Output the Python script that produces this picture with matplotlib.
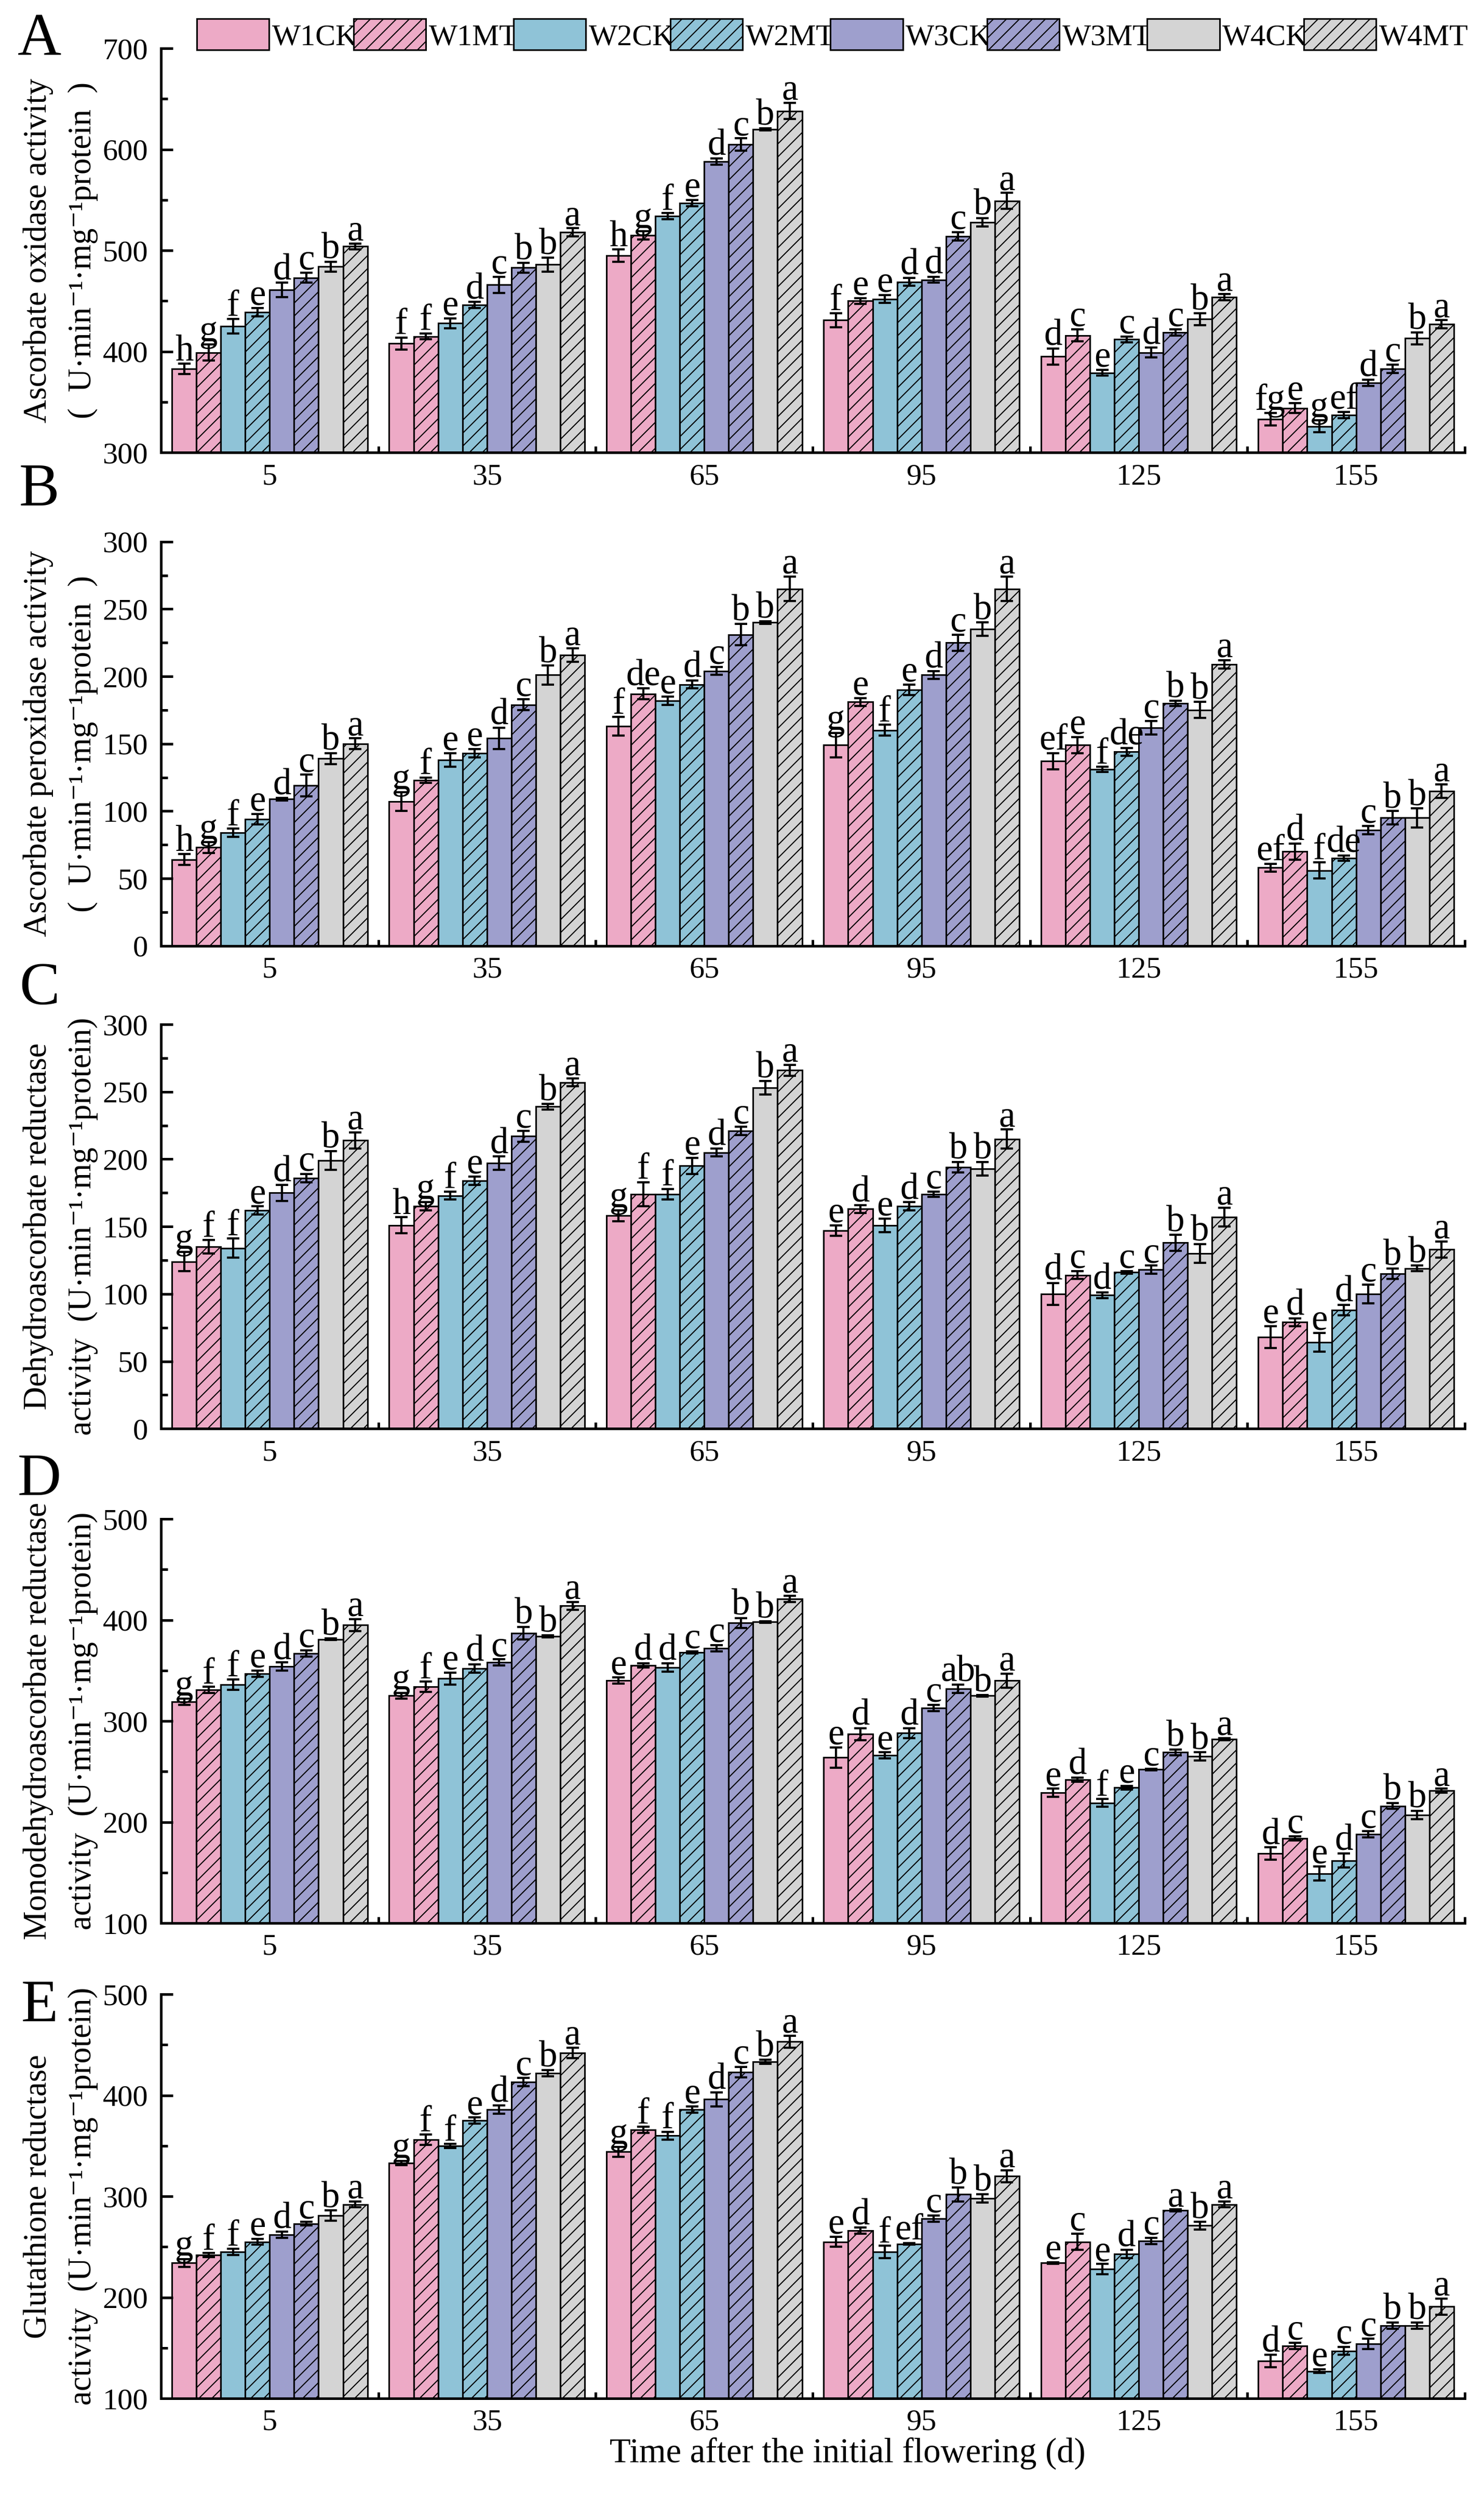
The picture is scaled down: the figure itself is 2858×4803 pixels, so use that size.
import matplotlib
matplotlib.use("Agg")
import matplotlib.pyplot as plt
import numpy as np
from matplotlib.patches import Patch
from matplotlib.ticker import MultipleLocator

plt.rcParams['font.family'] = ['Liberation Serif', 'DejaVu Serif']
plt.rcParams['hatch.linewidth'] = 0.5

days = ['5', '35', '65', '95', '125', '155']
treatments = ['W1CK', 'W1MT', 'W2CK', 'W2MT', 'W3CK', 'W3MT', 'W4CK', 'W4MT']
colors = ['#EDAAC6', '#EDAAC6', '#8FC3D7', '#8FC3D7', '#9E9FCD', '#9E9FCD', '#D4D4D4', '#D4D4D4']
hatches = ['', '////', '', '////', '', '////', '', '////']

# A  ascorbate oxidase
aao_mean = [[383, 399, 425, 439, 461, 473, 484, 504],
            [408, 415, 428, 446, 466, 483, 486, 518],
            [495, 515, 534, 547, 588, 605, 620, 638],
            [431, 450, 452, 469, 471, 514, 528, 549],
            [395, 416, 379, 412, 399, 419, 432, 454],
            [333, 344, 326, 337, 369, 383, 413, 427]]
aao_err = [[5, 8, 7, 4, 7, 5, 5, 3],
           [6, 3, 5, 3, 8, 5, 7, 4],
           [6, 4, 3, 3, 3, 6, 1, 8],
           [7, 3, 4, 4, 3, 4, 4, 8],
           [8, 6, 3, 3, 5, 3, 6, 3],
           [6, 5, 6, 3, 3, 4, 6, 4]]
aao_sig = [['h', 'g', 'f', 'e', 'd', 'c', 'b', 'a'],
           ['f', 'f', 'e', 'd', 'c', 'b', 'b', 'a'],
           ['h', 'g', 'f', 'e', 'd', 'c', 'b', 'a'],
           ['f', 'e', 'e', 'd', 'd', 'c', 'b', 'a'],
           ['d', 'c', 'e', 'c', 'd', 'c', 'b', 'a'],
           ['fg', 'e', 'g', 'ef', 'd', 'c', 'b', 'a']]

# B  ascorbate peroxidase
apx_mean = [[64, 73, 84, 94, 109, 119, 139, 150],
            [107, 123, 138, 143, 154, 179, 201, 216],
            [163, 187, 182, 194, 204, 231, 240, 265],
            [149, 181, 160, 190, 201, 225, 235, 265],
            [137, 149, 131, 144, 162, 180, 175, 209],
            [58, 70, 56, 65, 86, 95, 95, 115]]
apx_err = [[4, 4, 3, 4, 1, 8, 4, 4],
           [7, 2, 5, 3, 8, 4, 7, 5],
           [7, 4, 3, 3, 3, 8, 1, 9],
           [9, 3, 4, 4, 3, 6, 5, 9],
           [6, 6, 2, 3, 5, 2, 6, 3],
           [3, 6, 6, 2, 3, 5, 7, 5]]
apx_sig = [['h', 'g', 'f', 'e', 'd', 'c', 'b', 'a'],
           ['g', 'f', 'e', 'e', 'd', 'c', 'b', 'a'],
           ['f', 'de', 'e', 'd', 'c', 'b', 'b', 'a'],
           ['g', 'e', 'f', 'e', 'd', 'c', 'b', 'a'],
           ['ef', 'e', 'f', 'de', 'c', 'b', 'b', 'a'],
           ['ef', 'd', 'f', 'de', 'c', 'b', 'b', 'a']]

# C  dehydroascorbate reductase
dhar_mean = [[124, 135, 134, 162, 175, 186, 199, 214],
             [151, 165, 173, 184, 197, 217, 239, 257],
             [158, 174, 174, 195, 205, 221, 253, 266],
             [147, 163, 151, 165, 174, 194, 193, 215],
             [100, 114, 99, 116, 118, 138, 130, 157],
             [68, 79, 64, 88, 100, 115, 119, 133]]
dhar_err = [[7, 5, 7, 3, 6, 3, 7, 6],
            [6, 3, 3, 3, 5, 4, 2, 3],
            [4, 9, 4, 6, 3, 3, 5, 4],
            [4, 3, 5, 3, 2, 4, 5, 7],
            [8, 3, 2, 1, 3, 6, 7, 7],
            [8, 3, 7, 4, 7, 4, 2, 6]]
dhar_sig = [['g', 'f', 'f', 'e', 'd', 'c', 'b', 'a'],
            ['h', 'g', 'f', 'e', 'd', 'c', 'b', 'a'],
            ['g', 'f', 'f', 'e', 'd', 'c', 'b', 'a'],
            ['e', 'd', 'e', 'd', 'c', 'b', 'b', 'a'],
            ['d', 'c', 'd', 'c', 'c', 'b', 'b', 'a'],
            ['e', 'd', 'e', 'd', 'c', 'b', 'b', 'a']]

# D  monodehydroascorbate reductase
mdhar_mean = [[319, 331, 336, 347, 354, 367, 381, 395],
              [325, 334, 342, 352, 358, 387, 384, 414],
              [340, 355, 353, 368, 372, 397, 398, 421],
              [264, 287, 266, 288, 313, 332, 325, 340],
              [229, 242, 219, 234, 252, 269, 265, 282],
              [169, 184, 149, 162, 188, 216, 207, 231]]
mdhar_err = [[3, 3, 5, 3, 4, 3, 1, 6],
             [3, 5, 6, 4, 3, 6, 1, 4],
             [3, 2, 4, 1, 3, 5, 1, 3],
             [10, 6, 3, 5, 3, 4, 1, 7],
             [4, 2, 4, 2, 1, 3, 4, 1],
             [6, 2, 7, 7, 3, 3, 4, 2]]
mdhar_sig = [['g', 'f', 'f', 'e', 'd', 'c', 'b', 'a'],
             ['g', 'f', 'e', 'd', 'c', 'b', 'b', 'a'],
             ['e', 'd', 'd', 'c', 'c', 'b', 'b', 'a'],
             ['e', 'd', 'e', 'd', 'c', 'ab', 'b', 'a'],
             ['e', 'd', 'f', 'e', 'c', 'b', 'b', 'a'],
             ['d', 'c', 'e', 'd', 'c', 'b', 'b', 'a']]

# E  glutathione reductase
gr_mean = [[234, 242, 245, 255, 262, 273, 281, 292],
           [333, 356, 350, 375, 386, 413, 422, 442],
           [344, 366, 360, 386, 396, 423, 433, 453],
           [255, 266, 245, 253, 278, 302, 298, 320],
           [234, 255, 228, 243, 256, 286, 271, 292],
           [137, 152, 127, 147, 154, 172, 172, 191]]
gr_err = [[4, 2, 3, 3, 3, 2, 5, 3],
          [2, 5, 2, 3, 4, 4, 3, 5],
          [5, 3, 4, 3, 7, 5, 2, 6],
          [5, 3, 6, 1, 3, 7, 4, 6],
          [1, 8, 5, 4, 3, 1, 4, 3],
          [6, 3, 2, 4, 5, 3, 3, 8]]
gr_sig = [['g', 'f', 'f', 'e', 'd', 'c', 'b', 'a'],
          ['g', 'f', 'f', 'e', 'd', 'c', 'b', 'a'],
          ['g', 'f', 'f', 'e', 'd', 'c', 'b', 'a'],
          ['e', 'd', 'f', 'ef', 'c', 'b', 'b', 'a'],
          ['e', 'c', 'e', 'd', 'c', 'a', 'b', 'a'],
          ['d', 'c', 'e', 'c', 'c', 'b', 'b', 'a']]

unit = 'U·min⁻¹·mg⁻¹protein'
panels = [
    ('A', 'Ascorbate oxidase activity', '(  ' + unit + '  )', (300, 700), 100, 50,
     aao_mean, aao_err, aao_sig, 0.8186, 0.9837),
    ('B', 'Ascorbate peroxidase activity', '(  ' + unit + '  )', (0, 300), 50, 25,
     apx_mean, apx_err, apx_sig, 0.6209, 0.8032),
    ('C', 'Dehydroascorbate reductase', 'activity  (' + unit + ')', (0, 300), 50, 25,
     dhar_mean, dhar_err, dhar_sig, 0.4274, 0.6034),
    ('D', 'Monodehydroascorbate reductase', 'activity  (' + unit + ')', (100, 500), 100, 50,
     mdhar_mean, mdhar_err, mdhar_sig, 0.2292, 0.4066),
    ('E', 'Glutathione reductase', 'activity  (' + unit + ')', (100, 500), 100, 50,
     gr_mean, gr_err, gr_sig, 0.0387, 0.1957),
]

fig = plt.figure(figsize=(2858 / 300, 4803 / 300), dpi=300)
x = np.arange(len(days))
w = 0.1125

for letter, lab1, lab2, ylim, major, minor, mean, err, sig, bottom, lety in panels:
    ax = fig.add_axes([0.1085, bottom, 0.8785, 0.162])
    mean = np.array(mean)
    err = np.array(err)
    for j in range(len(treatments)):
        xs = x + (j - 3.5) * w
        ax.bar(xs, mean[:, j], w, color=colors[j], edgecolor='black',
               linewidth=0.75, hatch=hatches[j])
        ax.errorbar(xs, mean[:, j], yerr=err[:, j], fmt='none', ecolor='black',
                    elinewidth=1.0, capsize=2.8, capthick=1.0)
        for i in range(len(days)):
            ax.annotate(sig[i][j], (xs[i], mean[i, j] + err[i, j]), xytext=(0, 1.5),
                        textcoords='offset points', ha='center', va='baseline',
                        fontsize=17)
    ax.set_xlim(-0.5, 5.5)
    ax.set_ylim(*ylim)
    ax.set_xticks(np.arange(7) - 0.5)
    ax.set_xticklabels([])
    ax.set_xticks(x, minor=True)
    ax.set_xticklabels(days, minor=True)
    ax.tick_params(axis='x', which='major', direction='in', length=3, width=1.2)
    ax.tick_params(axis='x', which='minor', length=0, pad=5, labelsize=14)
    ax.yaxis.set_major_locator(MultipleLocator(major))
    ax.yaxis.set_minor_locator(MultipleLocator(minor))
    ax.tick_params(axis='y', which='major', direction='in', length=5.5, width=1.2,
                   labelsize=14, pad=6)
    ax.tick_params(axis='y', which='minor', direction='in', length=3, width=1.2)
    for s in ['top', 'right']:
        ax.spines[s].set_visible(False)
    for s in ['left', 'bottom']:
        ax.spines[s].set_linewidth(1.2)
    ax.text(-0.094, 0.5, lab1, transform=ax.transAxes, rotation=90,
            ha='center', va='center', fontsize=15)
    ax.text(-0.060, 0.5, lab2, transform=ax.transAxes, rotation=90,
            ha='center', va='center', fontsize=15)
    fig.text(0.0266, lety, letter, ha='center', va='center', fontsize=28)

fig.text(0.571, 0.0167, 'Time after the initial flowering (d)', ha='center',
         va='center', fontsize=16)

handles = [Patch(facecolor=colors[j], edgecolor='black', linewidth=0.75,
                 hatch=hatches[j], label=treatments[j]) for j in range(len(treatments))]
fig.legend(handles=handles, ncol=8, loc='center', bbox_to_anchor=(0.561, 0.986),
           frameon=False, fontsize=14, handlelength=2.39, handleheight=1.2,
           handletextpad=0.1, columnspacing=-0.15, borderpad=0)

fig.savefig('out.png', dpi=300)
